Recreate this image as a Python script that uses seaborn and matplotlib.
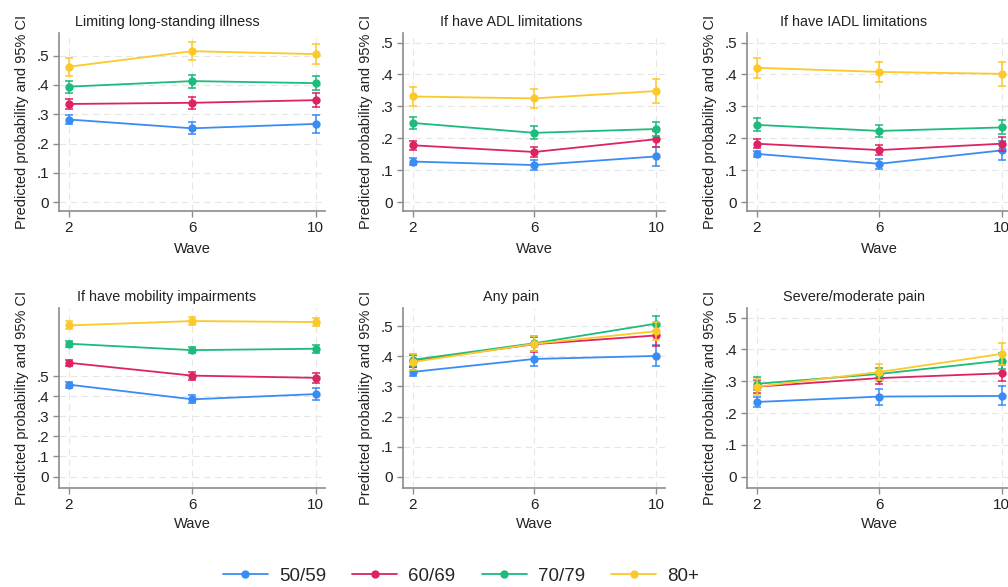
import numpy as np
import pandas as pd
import matplotlib
matplotlib.use("Agg")
import matplotlib.pyplot as plt
from matplotlib.ticker import FuncFormatter
from matplotlib.lines import Line2D
import seaborn as sns

waves = [2, 6, 10]
groups = ["50/59", "60/69", "70/79", "80+"]
colors = ["#3a8cf5", "#dc2462", "#1dbb7c", "#fcc928"]

titles = ["Limiting long-standing illness", "If have ADL limitations", "If have IADL limitations",
          "If have mobility impairments", "Any pain", "Severe/moderate pain"]

# point estimates (rows = age group, cols = wave) and CI half widths
illness_est = [[0.282, 0.252, 0.267], [0.335, 0.339, 0.348], [0.394, 0.413, 0.406], [0.462, 0.515, 0.505]]
illness_ci = [[0.015, 0.02, 0.03], [0.018, 0.02, 0.025], [0.02, 0.022, 0.025], [0.03, 0.03, 0.035]]
adl_est = [[0.127, 0.116, 0.143], [0.178, 0.157, 0.197], [0.248, 0.217, 0.229], [0.331, 0.325, 0.348]]
adl_ci = [[0.01, 0.017, 0.03], [0.015, 0.015, 0.025], [0.02, 0.02, 0.022], [0.03, 0.03, 0.037]]
iadl_est = [[0.151, 0.120, 0.162], [0.183, 0.163, 0.183], [0.242, 0.223, 0.234], [0.421, 0.408, 0.402]]
iadl_ci = [[0.01, 0.015, 0.03], [0.015, 0.015, 0.022], [0.02, 0.018, 0.022], [0.032, 0.032, 0.038]]
mobility_est = [[0.458, 0.385, 0.411], [0.567, 0.503, 0.492], [0.662, 0.630, 0.637], [0.753, 0.775, 0.770]]
mobility_ci = [[0.015, 0.02, 0.03], [0.015, 0.02, 0.025], [0.015, 0.015, 0.02], [0.02, 0.02, 0.022]]
anypain_est = [[0.348, 0.391, 0.401], [0.385, 0.440, 0.469], [0.388, 0.443, 0.508], [0.381, 0.441, 0.483]]
anypain_ci = [[0.015, 0.025, 0.035], [0.02, 0.025, 0.035], [0.02, 0.025, 0.025], [0.025, 0.025, 0.03]]
severe_est = [[0.235, 0.252, 0.254], [0.283, 0.310, 0.325], [0.292, 0.323, 0.365], [0.283, 0.329, 0.386]]
severe_ci = [[0.015, 0.025, 0.03], [0.02, 0.02, 0.025], [0.02, 0.02, 0.025], [0.025, 0.025, 0.035]]

panels = [(illness_est, illness_ci), (adl_est, adl_ci), (iadl_est, iadl_ci),
          (mobility_est, mobility_ci), (anypain_est, anypain_ci), (severe_est, severe_ci)]
ylims = [(-0.03, 0.577), (-0.028, 0.53), (-0.028, 0.53), (-0.057, 0.84), (-0.037, 0.56), (-0.035, 0.53)]

sns.set_style("white")
plt.rcParams["font.family"] = ["Liberation Sans", "DejaVu Sans"]

W, H = 1008, 587
fig = plt.figure(figsize=(W / 100, H / 100), dpi=100)

# axes boxes in pixels: left, right, top, bottom
col_x = [(59, 325), (403, 665), (747, 1011)]
row_y = [(33, 211), (308, 488)]
wave_y = [248, 523]
title_cx = [167, 511, 854]
txt = "#222222"

def long_df(est, ci):
    rows = []
    for g, e_row, c_row in zip(groups, est, ci):
        for w, e, c in zip(waves, e_row, c_row):
            for v in (e - c, e, e + c):
                rows.append({"wave": w, "group": g, "value": v})
    return pd.DataFrame(rows)

fmt = FuncFormatter(lambda v, p: "0" if abs(v) < 1e-9 else f"{v:.1f}".lstrip("0"))

for i, (est, ci) in enumerate(panels):
    r, c = divmod(i, 3)
    x0, x1 = col_x[c]
    y0, y1 = row_y[r]
    ax = fig.add_axes([x0 / W, 1 - y1 / H, (x1 - x0) / W, (y1 - y0) / H])
    df = long_df(est, ci)
    sns.lineplot(data=df, x="wave", y="value", hue="group", hue_order=groups, palette=colors,
                 estimator="median", errorbar=("pi", 100), err_style="bars", marker="o",
                 markersize=6, markeredgewidth=0, linewidth=1.3, legend=False, ax=ax,
                 err_kws={"capsize": 3, "elinewidth": 1.1, "capthick": 1.1})
    ax.set_xlim(1.68, 10.3)
    ax.set_ylim(*ylims[i])
    ax.set_xticks(waves)
    ax.set_yticks(np.arange(0, 0.51, 0.1))
    ax.yaxis.set_major_formatter(fmt)
    ax.grid(True, linestyle=(0, (6, 4)), color="#e6e6e6", linewidth=0.8)
    ax.set_axisbelow(True)
    for s in ["top", "right"]:
        ax.spines[s].set_visible(False)
    for s in ["left", "bottom"]:
        ax.spines[s].set_color("#8c8c8c")
        ax.spines[s].set_linewidth(1.2)
    ax.tick_params(axis="both", which="major", bottom=True, left=True, direction="out",
                   length=4, width=1, color="#8c8c8c", labelsize=11, labelcolor=txt, pad=3)
    ax.set_xlabel("Wave", fontsize=10.5, color=txt)
    ax.set_ylabel("Predicted probability and 95% CI", fontsize=10.5, color=txt)
    ax.yaxis.set_label_coords(-30 / (x1 - x0), 0.5)
    ax.xaxis.set_label_coords(0.5, -(wave_y[r] - 6 - y1) / (y1 - y0))
    fig.text(title_cx[c] / W, 1 - (y0 - 7) / H, titles[i], ha="center", va="baseline",
             fontsize=10.4, color=txt)

handles = [Line2D([0], [0], color=col, marker="o", markersize=6, markeredgewidth=0, linewidth=1.3)
           for col in colors]
fig.legend(handles, groups, loc="center", bbox_to_anchor=(461 / W, 1 - 576 / H), ncol=4,
           frameon=False, fontsize=13.5, handlelength=2.4, columnspacing=1.4, handletextpad=0.6)

fig.savefig("out.png", dpi=100)
